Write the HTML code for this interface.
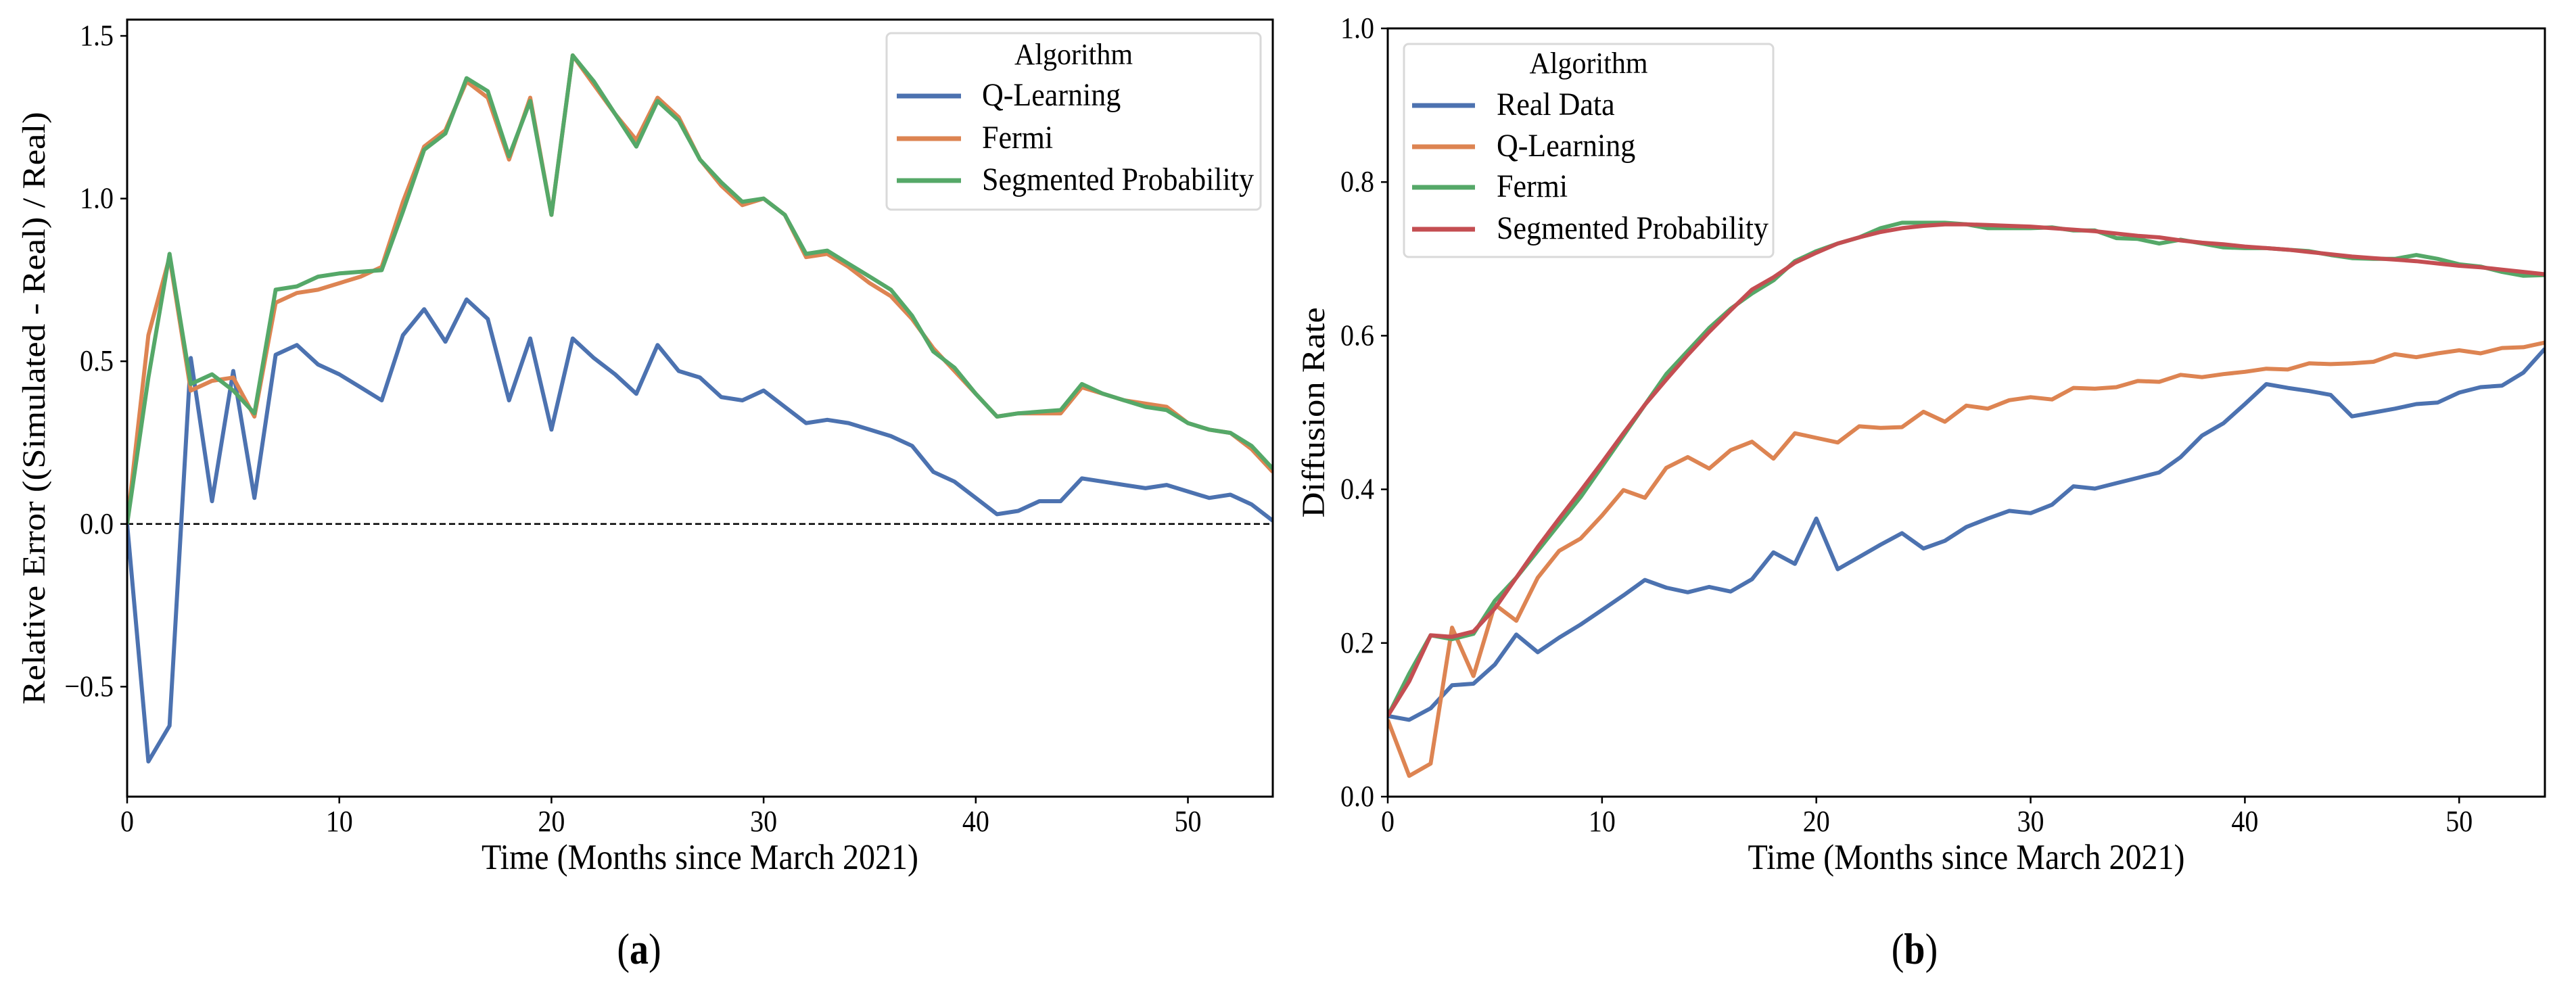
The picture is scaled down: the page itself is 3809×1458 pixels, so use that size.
<!DOCTYPE html>
<html><head><meta charset="utf-8"><style>
html,body{margin:0;padding:0;background:#fff;}
svg{display:block;font-family:"Liberation Serif",serif;}
</style></head><body>
<svg id="fig" width="3809" height="1458" viewBox="0 0 3809 1458" xmlns="http://www.w3.org/2000/svg"></svg>
<script>
const months = Array.from({length:55},(_,i)=>i);
const xTicks = [0,10,20,30,40,50];
const aYTicks = [-0.5,0.0,0.5,1.0,1.5];
const aYTickLabels = ["\u22120.5","0.0","0.5","1.0","1.5"];
const bYTicks = [0,0.2,0.4,0.6,0.8,1.0];
const bYTickLabels = ["0.0","0.2","0.4","0.6","0.8","1.0"];
const aQ = [0,-0.73,-0.62,0.51,0.07,0.47,0.08,0.52,0.55,0.49,0.46,0.42,0.38,0.58,0.66,0.56,0.69,0.63,0.38,0.57,0.29,0.57,0.51,0.46,0.40,0.55,0.47,0.45,0.39,0.38,0.41,0.36,0.31,0.32,0.31,0.29,0.27,0.24,0.16,0.13,0.08,0.03,0.04,0.07,0.07,0.14,0.13,0.12,0.11,0.12,0.10,0.08,0.09,0.06,0.01];
const aFermi = [0,0.58,0.82,0.41,0.44,0.45,0.33,0.68,0.71,0.72,0.74,0.76,0.79,0.99,1.16,1.21,1.36,1.31,1.12,1.31,0.95,1.44,1.35,1.26,1.18,1.31,1.25,1.12,1.04,0.98,1.0,0.95,0.82,0.83,0.79,0.74,0.70,0.63,0.54,0.47,0.40,0.33,0.34,0.34,0.34,0.42,0.40,0.38,0.37,0.36,0.31,0.29,0.28,0.23,0.16];
const aSeg = [0,0.45,0.83,0.43,0.46,0.41,0.34,0.72,0.73,0.76,0.77,0.775,0.78,0.96,1.15,1.2,1.37,1.33,1.13,1.3,0.95,1.44,1.36,1.26,1.16,1.30,1.24,1.12,1.05,0.99,1.0,0.95,0.83,0.84,0.80,0.76,0.72,0.64,0.53,0.48,0.40,0.33,0.34,0.345,0.35,0.43,0.40,0.38,0.36,0.35,0.31,0.29,0.28,0.24,0.17];
const bReal = [0.105,0.10,0.115,0.145,0.147,0.172,0.211,0.188,0.207,0.224,0.243,0.262,0.282,0.272,0.266,0.273,0.267,0.283,0.318,0.303,0.362,0.296,0.312,0.328,0.343,0.323,0.333,0.351,0.362,0.372,0.369,0.38,0.404,0.401,0.408,0.415,0.422,0.442,0.47,0.486,0.511,0.537,0.532,0.528,0.523,0.495,0.5,0.505,0.511,0.513,0.526,0.533,0.535,0.552,0.583];
const bQ = [0.1,0.027,0.043,0.22,0.157,0.25,0.229,0.285,0.32,0.336,0.366,0.399,0.389,0.428,0.442,0.427,0.451,0.462,0.44,0.473,0.467,0.461,0.482,0.48,0.481,0.501,0.488,0.509,0.505,0.516,0.52,0.517,0.532,0.531,0.533,0.541,0.54,0.549,0.546,0.55,0.553,0.557,0.556,0.564,0.563,0.564,0.566,0.576,0.572,0.577,0.581,0.577,0.584,0.585,0.591];
const bFermi = [0.105,0.16,0.21,0.205,0.212,0.255,0.285,0.32,0.355,0.39,0.43,0.47,0.51,0.55,0.58,0.61,0.635,0.655,0.672,0.697,0.71,0.72,0.728,0.74,0.747,0.747,0.747,0.745,0.74,0.74,0.74,0.741,0.737,0.737,0.727,0.726,0.72,0.725,0.72,0.715,0.714,0.714,0.712,0.71,0.705,0.701,0.7,0.7,0.705,0.7,0.693,0.69,0.683,0.678,0.679];
const bSeg = [0.105,0.15,0.21,0.208,0.215,0.245,0.285,0.325,0.362,0.398,0.435,0.473,0.51,0.543,0.575,0.605,0.633,0.66,0.676,0.695,0.708,0.72,0.728,0.735,0.74,0.743,0.745,0.745,0.744,0.743,0.742,0.74,0.738,0.736,0.733,0.73,0.728,0.724,0.721,0.719,0.716,0.714,0.712,0.709,0.706,0.703,0.701,0.699,0.697,0.694,0.691,0.689,0.686,0.683,0.68];

const NS="http://www.w3.org/2000/svg";
const svg=document.getElementById('fig');
function mk(tag,attrs,parent){const e=document.createElementNS(NS,tag);for(const k in attrs)e.setAttribute(k,attrs[k]);(parent||svg).appendChild(e);return e;}
function txt(parent,x,y,size,anchor,content,extra){
  const t=mk('text',{x:0,y:0,'font-size':size,'text-anchor':anchor,transform:`translate(${x},${y}) ${extra||'scale(1,1.1)'}`},parent);
  t.textContent=content;return t;
}
const C={blue:"#4C72B0",orange:"#DD8452",green:"#55A868",red:"#C44E52"};

function panel(cfg){
  const g=mk('g',{});
  
  
  const X=v=>cfg.x0+(v-cfg.xmin)/(cfg.xmax-cfg.xmin)*(cfg.x1-cfg.x0);
  const Y=v=>cfg.y1-(v-cfg.ymin)/(cfg.ymax-cfg.ymin)*(cfg.y1-cfg.y0);
  const clipId=cfg.name+'-clip';
  const cp=mk('clipPath',{id:clipId},g);
  mk('rect',{x:cfg.x0,y:cfg.y0,width:cfg.x1-cfg.x0,height:cfg.y1-cfg.y0},cp);
  if(cfg.zeroLine){
    const z=mk('line',{x1:cfg.x0,x2:cfg.x1,y1:Y(0),y2:Y(0),stroke:'#000','stroke-width':2.5,'stroke-dasharray':'9,5'},g);
    
    
  }
  cfg.series.forEach(s=>{
    const d=s.data.map((v,i)=>(i?'L':'M')+X(months[i]).toFixed(1)+','+Y(v).toFixed(1)).join('');
    const p=mk('path',{d:d,fill:'none',stroke:s.color,'stroke-width':6,'stroke-linejoin':'round','clip-path':'url(#'+clipId+')'},g);
    
    
  });
  const fr=mk('rect',{x:cfg.x0,y:cfg.y0,width:cfg.x1-cfg.x0,height:cfg.y1-cfg.y0,fill:'none',stroke:'#000','stroke-width':3},g);
  
  
  xTicks.forEach(t=>{
    mk('line',{x1:X(t),x2:X(t),y1:cfg.y1,y2:cfg.y1+10,stroke:'#000','stroke-width':2.5},g);
    const tx=txt(g,X(t),1229,40,'middle',t);
    
    
  });
  cfg.yTicks.forEach((t,i)=>{
    mk('line',{x1:cfg.x0-10,x2:cfg.x0,y1:Y(t),y2:Y(t),stroke:'#000','stroke-width':2.5},g);
    const tx=txt(g,cfg.x0-20,Y(t)+14,40,'end',cfg.yLabels[i]);
    
    
  });
  const xl=txt(g,(cfg.x0+cfg.x1)/2,1285,48,'middle','Time (Months since March 2021)');
  
  
  const yl=txt(g,cfg.ylx,(cfg.y0+cfg.y1)/2,48,'middle',cfg.ylabel,'rotate(-90) scale(1.1,1)');
  
  
  const L=cfg.legend;
  const lg=mk('g',{},g);
  
  
  mk('rect',{x:L.x,y:L.y,width:L.w,height:L.h,rx:7,fill:'#fff','fill-opacity':0.85,stroke:'#d9d9d9','stroke-width':3},lg);
  const tt=txt(lg,L.x+L.w/2,L.titleY,42,'middle','Algorithm','scale(1,1.05)');
  
  
  cfg.series.forEach((s,i)=>{
    const yy=L.rows[i];
    const e=mk('g',{},lg);
    
    
    mk('line',{x1:L.lx0,x2:L.lx1,y1:yy,y2:yy,stroke:s.color,'stroke-width':7},e);
    txt(e,L.tx,yy+14,44,'start',s.label,'scale(1,1.08)');
  });
  const cap=mk('text',{x:0,y:0,'font-size':56,'text-anchor':'middle',transform:`translate(${cfg.capX},1425) scale(1,1.15)`},g);
  cap.innerHTML='(<tspan font-weight="bold">'+cfg.cap+'</tspan>)';
  
  
}

panel({name:'panel-a',x0:188,x1:1882,y0:29,y1:1178,xmin:0,xmax:54,ymin:-0.838,ymax:1.55,
  yTicks:aYTicks,yLabels:aYTickLabels,ylabel:'Relative Error ((Simulated - Real) / Real)',ylx:66,zeroLine:true,
  capX:945,cap:'a',
  series:[{id:'q-learning',label:'Q-Learning',color:C.blue,data:aQ},{id:'fermi',label:'Fermi',color:C.orange,data:aFermi},{id:'segmented-probability',label:'Segmented Probability',color:C.green,data:aSeg}],
  legend:{x:1311,y:49,w:553,h:261,titleY:95,rows:[142,205,267],lx0:1326,lx1:1421,tx:1452}});
panel({name:'panel-b',x0:2052,x1:3763,y0:42,y1:1178,xmin:0,xmax:54,ymin:0,ymax:1.0,
  yTicks:bYTicks,yLabels:bYTickLabels,ylabel:'Diffusion Rate',ylx:1958,zeroLine:false,
  capX:2831,cap:'b',
  series:[{id:'real-data',label:'Real Data',color:C.blue,data:bReal},{id:'q-learning',label:'Q-Learning',color:C.orange,data:bQ},{id:'fermi',label:'Fermi',color:C.green,data:bFermi},{id:'segmented-probability',label:'Segmented Probability',color:C.red,data:bSeg}],
  legend:{x:2076,y:65,w:546,h:315,titleY:108,rows:[156,217,277,339],lx0:2088,lx1:2181,tx:2213}});
</script>
</body></html>
